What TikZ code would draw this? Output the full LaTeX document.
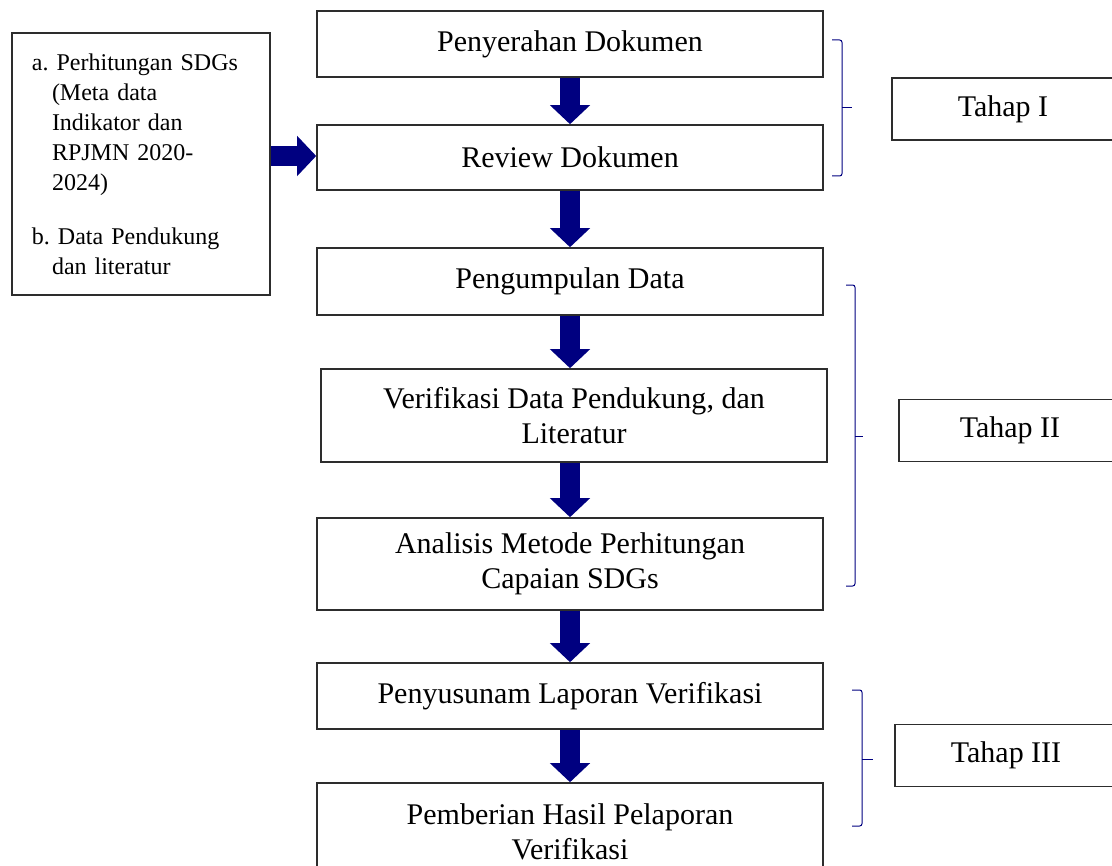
\documentclass[tikz,border=0pt]{standalone}
\usepackage{fontspec}
\setmainfont{Liberation Serif}
\usepackage{tikz}
\usetikzlibrary{arrows.meta}
\definecolor{navyblok}{RGB}{0,0,128}
\definecolor{garisbox}{RGB}{45,45,45}
\tikzstyle{proses}=[rectangle, draw=garisbox, line width=0.8pt, minimum width=253pt,
  align=center, inner sep=2pt, font=\fontsize{15}{17.5}\selectfont]
\tikzstyle{tahap}=[rectangle, draw=garisbox, line width=0.8pt, minimum width=111pt,
  minimum height=31pt, align=center, font=\fontsize{15}{17.5}\selectfont]
\tikzstyle{sumber}=[rectangle, draw=garisbox, line width=0.8pt, minimum width=129pt,
  minimum height=131pt, text width=109pt, inner xsep=10pt, align=left,
  font=\fontsize{12}{15}\selectfont]
\tikzstyle{panah}=[line width=10pt, navyblok, -{Triangle[length=9.5pt,width=19.5pt]}]
\tikzstyle{kurung}=[draw=navyblok, line width=0.5pt, rounded corners=1.2pt]

\begin{document}
\begin{tikzpicture}[x=0.5pt, y=-0.5pt]

    \useasboundingbox (0,0) rectangle (1112,866);

    % Main flow, top to bottom
    \node[proses, minimum height=33pt] (serah) at (570,44) {Penyerahan Dokumen};
    \node[proses, minimum height=32.5pt] (review) at (570,157.5) {Review Dokumen};
    \node[proses, minimum height=33.5pt] (kumpul) at (570,281.5) {Pengumpulan Data};
    \node[proses, minimum height=46.5pt] (verif) at (574,415.5) {Verifikasi Data Pendukung, dan\\ Literatur};
    \node[proses, minimum height=46pt] (analisis) at (570,564) {Analisis Metode Perhitungan\\ Capaian SDGs};
    \node[proses, minimum height=33pt] (susun) at (570,696) {Penyusunam Laporan Verifikasi};
    \node[proses, minimum height=48.5pt] (beri) at (570,831.5) {Pemberian Hasil Pelaporan\\ Verifikasi};

    % Input box on the left
    \node[sumber] (input) at (141,164)
      {a.~Perhitungan SDGs\\ \hspace*{10pt}(Meta data\\ \hspace*{10pt}Indikator dan\\
       \hspace*{10pt}RPJMN 2020-\\ \hspace*{10pt}2024)\\[12pt]
       b.~Data Pendukung\\ \hspace*{10pt}dan literatur};

    % Stage labels on the right
    \node[tahap] (tahapI) at (1003,109) {Tahap I};
    \node[tahap] (tahapII) at (1010,430.5) {Tahap II};
    \node[tahap] (tahapIII) at (1006,755.5) {Tahap III};

    \draw[panah] (serah) -- (review);
    \draw[panah] (review) -- (kumpul);
    \draw[panah] (kumpul.south) -- (kumpul.south |- verif.north);
    \draw[panah] (verif.south -| analisis) -- (analisis.north);
    \draw[panah] (analisis) -- (susun);
    \draw[panah] (susun) -- (beri);
    \draw[panah] (input.east |- 0,156) -- (review.west |- 0,156);

    % Brackets grouping the stages
    \draw[kurung] (832,40) -- (842,40) -- (842,176) -- (832,176);
    \draw[kurung] (842,108) -- (852,108);
    \draw[kurung] (846,285) -- (855,285) -- (855,586) -- (846,586);
    \draw[kurung] (855,436) -- (863,436);
    \draw[kurung] (852,690) -- (862,690) -- (862,826) -- (852,826);
    \draw[kurung] (862,759) -- (873,759);

  \end{tikzpicture}
\end{document}
